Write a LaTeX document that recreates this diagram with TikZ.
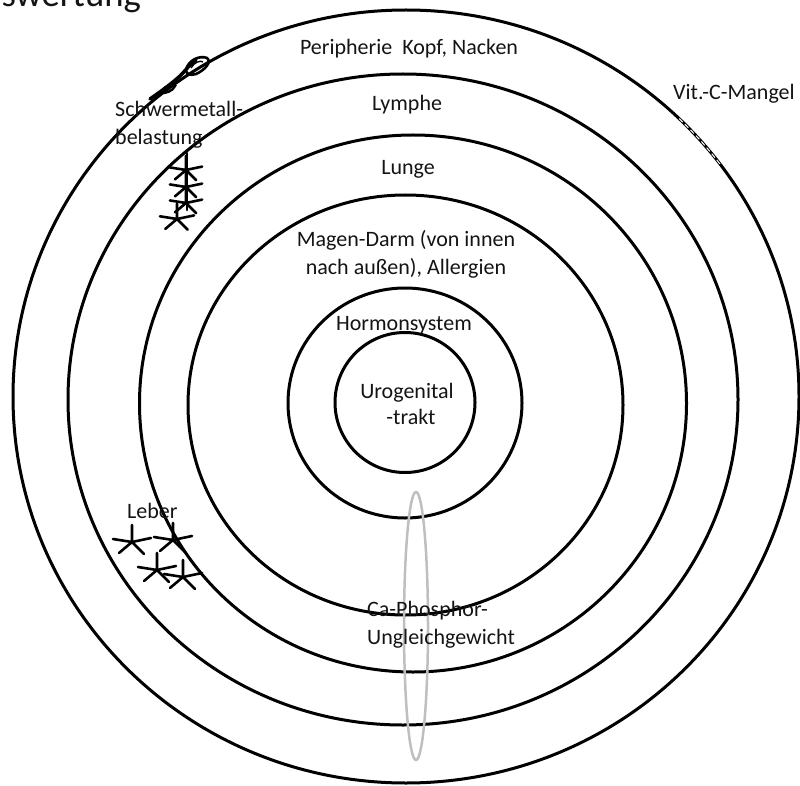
\documentclass[tikz,border=0pt]{standalone}
\usepackage{fontspec}
\setmainfont{Carlito}
\usetikzlibrary{shapes.geometric}
\definecolor{txt}{RGB}{20,20,20}
\definecolor{ovl}{RGB}{191,191,191}
\begin{document}
\begin{tikzpicture}[x=1pt,y=-1pt,
  ring/.style={draw, ellipse, line width=3pt, inner sep=0pt, outer sep=0pt},
  lbl/.style={text=txt, font=\fontsize{22}{27}\selectfont, inner sep=0pt},
  stroke/.style={line width=2.6pt, line cap=round},
  astk/.pic={\draw[stroke] (0,0) -- (0,-17) (0,0) -- (-19,-3) (0,0) -- (19,-4) (0,0) -- (-13,11) (0,0) -- (12,12);}]
\useasboundingbox (0,0) rectangle (800,786);

% rings
\node[ring, minimum width=786pt, minimum height=773pt] (c6) at (406,396.5) {};
\node[ring, minimum width=670pt, minimum height=651pt] (c5) at (403,399.5) {};
\node[ring, minimum width=547pt, minimum height=537pt] (c4) at (413,403.5) {};
\node[ring, minimum width=435pt, minimum height=420pt] (c3) at (405.5,405) {};
\node[ring, minimum width=234pt, minimum height=230pt] (c2) at (405,403) {};
\node[ring, minimum width=140pt, minimum height=140pt] (c1) at (405,402.5) {};

% erased part near Vit.-C-Mangel
\draw[white, line width=1pt, dash pattern=on 5pt off 3pt]
  plot[domain=37:46, samples=20, smooth] ({406+393*cos(\x)},{396.5-386.5*sin(\x)});

% grey oval
\node[draw=ovl, ellipse, line width=2.5pt, inner sep=0pt, minimum width=24pt, minimum height=268pt] (cap) at (416,626) {};

% title
\node[text=txt, font=\fontsize{36.7}{40}\selectfont, anchor=base east, inner sep=0pt] (title) at (141,7) {Auswertung};

% labels
\node[lbl, anchor=base] (per) at (409,55) {Peripherie~~Kopf, Nacken};
\node[lbl, anchor=base] (lym) at (407,111) {Lymphe};
\node[lbl, anchor=base] (lun) at (408,175) {Lunge};
\node[lbl, anchor=base] (mag1) at (406,247) {Magen-Darm (von innen};
\node[lbl, anchor=base] (mag2) at (406,274) {nach außen), Allergien};
\node[lbl, anchor=base] (hor) at (404,330) {Hormonsystem};
\node[lbl, anchor=base] (uro1) at (407,398) {Urogenital};
\node[lbl, anchor=base] (uro2) at (411,424) {-trakt};
\node[lbl, anchor=base west] (sch1) at (115,117) {Schwermetall-};
\node[lbl, anchor=base west] (sch2) at (115,145) {belastung};
\node[lbl, anchor=base west] (vit) at (673,100) {Vit.-C-Mangel};
\node[lbl, anchor=base west] (leb) at (127,518) {Leber};
\node[lbl, anchor=base west] (ca1) at (367,616) {Ca-Phosphor-};
\node[lbl, anchor=base west] (ca2) at (367,644) {Ungleichgewicht};

% scribble on outer ring
\draw[line width=3.5pt, line cap=round] (150,99) .. controls (160,92) and (170,85) .. (180,76) .. controls (186,70) and (190,64) .. (196,60);
\draw[line width=2.6pt] (186,70) .. controls (188,60) and (200,55) .. (207,58) .. controls (212,62) and (205,70) .. (196,74) .. controls (190,76) and (186,74) .. (186,70);
\draw[line width=1.4pt] (191,68) .. controls (194,62) and (201,60) .. (203,62);
\draw[line width=2.4pt] (160,93) .. controls (165,86) and (172,83) .. (175,86) .. controls (173,91) and (165,94) .. (160,93);

% stars Schwermetall
\draw[stroke] (187,153) -- (187,210);
\pic[scale=0.85] (sa) at (186,170) {astk};
\pic[scale=0.85] (sb) at (186,187) {astk};
\pic[scale=0.85] (sc) at (186,203) {astk};
\pic[scale=0.9] (sd) at (177,219) {astk};

% stars Leber
\pic (la) at (132,542) {astk};
\pic (lb) at (173,540) {astk};
\pic (lc) at (157,570) {astk};
\pic (ld) at (183,577) {astk};
\end{tikzpicture}
\end{document}
